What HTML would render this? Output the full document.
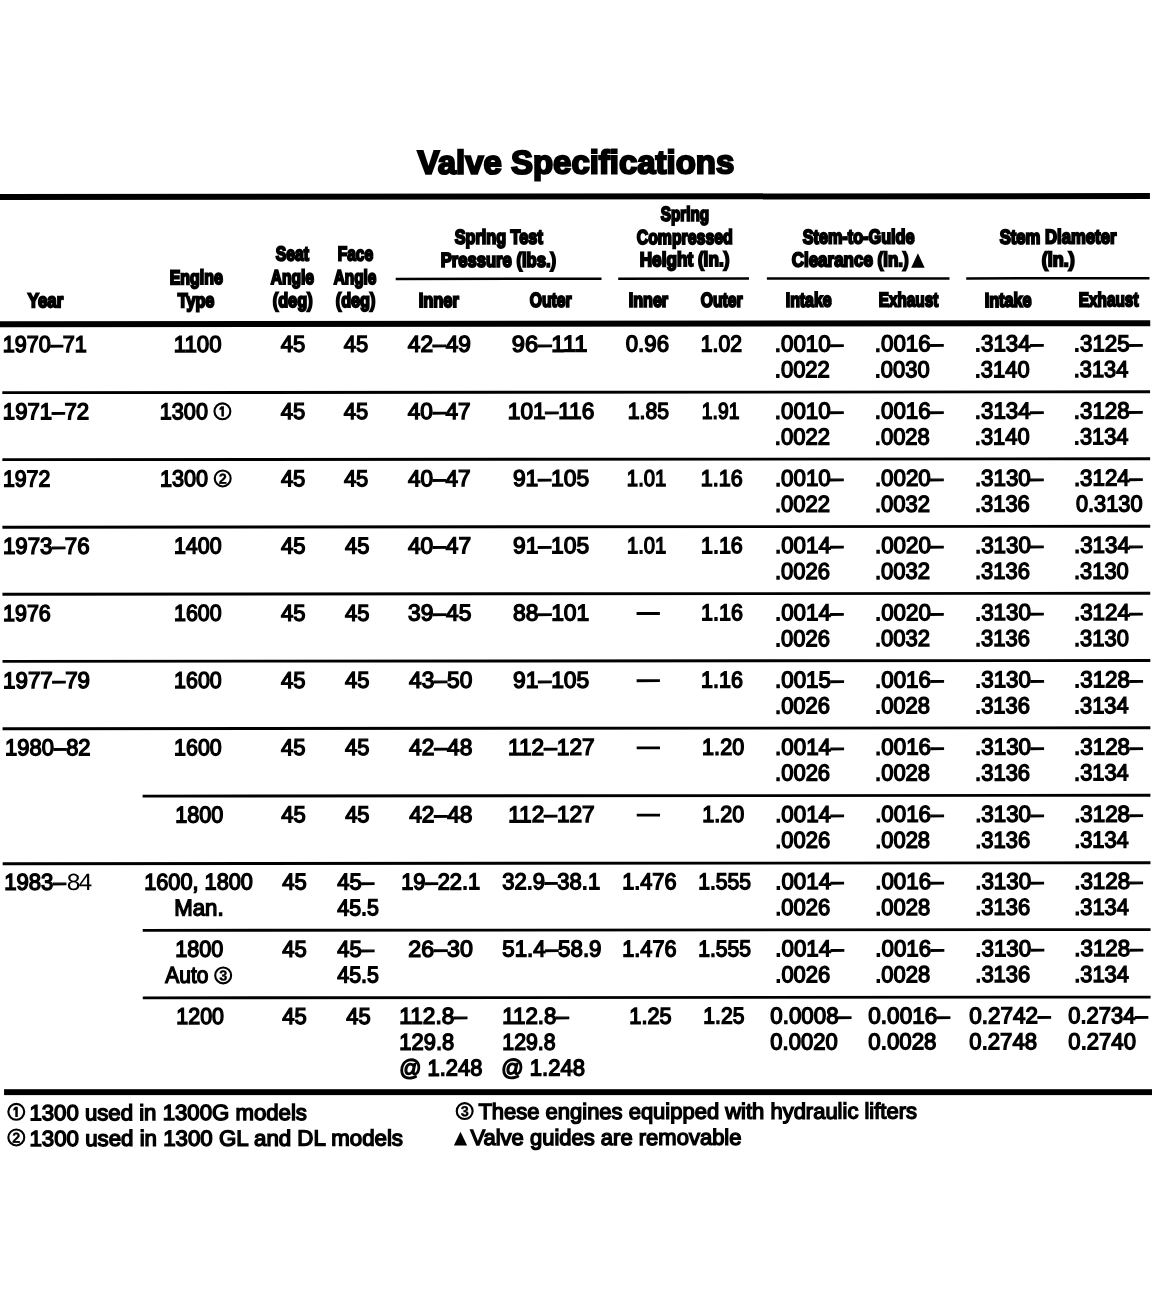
<!DOCTYPE html>
<html><head><meta charset="utf-8"><title>Valve Specifications</title>
<style>
html,body{margin:0;padding:0;background:#fff}
#p{filter:blur(0.4px);text-rendering:geometricPrecision;position:relative;width:1152px;height:1295px;overflow:hidden;background:#fff;font-family:"Liberation Sans",sans-serif;color:#000}
#r{position:absolute;left:0;top:0;width:1152px;height:1295px;transform:rotate(-0.047deg);transform-origin:0 650px}
#r div{position:absolute;white-space:nowrap;transform-origin:0 0}
.b{font-size:23px;line-height:23px;-webkit-text-stroke:1.4px #000}
.f{font-size:22px;line-height:22px;-webkit-text-stroke:1.4px #000}
.h{font-size:20px;line-height:20px;font-weight:bold;-webkit-text-stroke:2px #000}
.t{font-size:33px;line-height:33px;font-weight:bold;-webkit-text-stroke:2.1px #000}
.m{font-family:"Liberation Mono",monospace;font-size:24.5px;line-height:24px;letter-spacing:-2.9px;transform:rotate(-.03deg)}
svg{position:absolute;left:0;top:0}
svg text{font-family:"Liberation Sans",sans-serif}
</style></head>
<body><div id="p"><div id="r">
<svg width="1152" height="1295" viewBox="0 0 1152 1295" fill="#000">
<rect x="0" y="194.00" width="1150.30" height="6.0"/>
<rect x="0" y="321.20" width="1150.50" height="6.0"/>
<rect x="3.7" y="1089.2" width="1150" height="5.9" transform="rotate(0.047 0 1092.2)"/>
<rect x="396" y="277.95" width="205.80" height="2.5"/>
<rect x="618.5" y="277.95" width="130.80" height="2.5"/>
<rect x="767.2" y="277.95" width="182.60" height="2.5"/>
<rect x="966.5" y="277.95" width="183.30" height="2.5"/>
<rect x="2.5" y="391.27" width="1147.80" height="2.85"/>
<rect x="2.5" y="458.27" width="1147.80" height="2.85"/>
<rect x="2.5" y="525.78" width="1147.80" height="2.85"/>
<rect x="2.5" y="592.78" width="1147.80" height="2.85"/>
<rect x="2.5" y="659.98" width="1147.80" height="2.85"/>
<rect x="2.5" y="727.28" width="1147.80" height="2.85"/>
<rect x="142.5" y="794.78" width="1007.80" height="2.85"/>
<rect x="2.5" y="862.28" width="1147.80" height="2.85"/>
<rect x="142.5" y="929.08" width="1007.80" height="2.85"/>
<rect x="142.5" y="996.58" width="1007.80" height="2.85"/>
<rect x="636.6" y="612.64" width="23.30" height="2.8"/>
<rect x="636.6" y="679.85" width="23.30" height="2.8"/>
<rect x="636.6" y="747.06" width="23.30" height="2.8"/>
<rect x="636.6" y="814.27" width="23.30" height="2.8"/>
<circle cx="222.6" cy="411.46" r="7.95" fill="none" stroke="#000" stroke-width="2.1"/>
<path transform="translate(222.6 411.46)" d="M-1 -5.1H1.5V5.1H-1V-2.1L-2.9 -1.1V-3.2Z"/>
<circle cx="222.85" cy="478.66999999999996" r="7.95" fill="none" stroke="#000" stroke-width="2.1"/>
<text x="222.85" y="483.82" font-size="14.5" text-anchor="middle" font-weight="bold" stroke="#000" stroke-width="0.3" transform="rotate(-.03 222.85 478.66999999999996)">2</text>
<circle cx="222.9" cy="975.59" r="7.95" fill="none" stroke="#000" stroke-width="2.1"/>
<text x="222.9" y="980.74" font-size="14.5" text-anchor="middle" font-weight="bold" stroke="#000" stroke-width="0.3" transform="rotate(-.03 222.9 975.59)">3</text>
<circle cx="15.9" cy="1111.8" r="7.95" fill="none" stroke="#000" stroke-width="2.1"/>
<path transform="translate(15.9 1111.8)" d="M-1 -5.1H1.5V5.1H-1V-2.1L-2.9 -1.1V-3.2Z"/>
<circle cx="15.9" cy="1137.5" r="7.95" fill="none" stroke="#000" stroke-width="2.1"/>
<text x="15.9" y="1142.65" font-size="14.5" text-anchor="middle" font-weight="bold" stroke="#000" stroke-width="0.3" transform="rotate(-.03 15.9 1137.5)">2</text>
<circle cx="464.3" cy="1111.5" r="7.95" fill="none" stroke="#000" stroke-width="2.1"/>
<text x="464.3" y="1116.65" font-size="14.5" text-anchor="middle" font-weight="bold" stroke="#000" stroke-width="0.3" transform="rotate(-.03 464.3 1111.5)">3</text>
<path d="M911.5 268.6L918.25 253.9L925 268.6Z"/>
<path d="M453.5 1145.8L460.1 1132.1L466.7 1145.8Z"/>
</svg>
<div class="t" style="left:418.00px;top:146px;transform:translateY(0.10px) scaleX(0.9979) rotate(-.03deg)">Valve Specifications</div>
<div class="h" style="left:27.63px;top:291px;transform:translateY(0.30px) scaleX(0.8408) rotate(-.03deg)">Year</div>
<div class="h" style="left:169.90px;top:268px;transform:translateY(0.30px) scaleX(0.7977) rotate(-.03deg)">Engine</div>
<div class="h" style="left:177.75px;top:291px;transform:translateY(0.30px) scaleX(0.8113) rotate(-.03deg)">Type</div>
<div class="h" style="left:275.71px;top:244px;transform:translateY(0.80px) scaleX(0.7867) rotate(-.03deg)">Seat</div>
<div class="h" style="left:270.56px;top:268px;transform:translateY(0.30px) scaleX(0.7798) rotate(-.03deg)">Angle</div>
<div class="h" style="left:272.54px;top:291px;transform:translateY(0.30px) scaleX(0.8149) rotate(-.03deg)">(deg)</div>
<div class="h" style="left:337.53px;top:244px;transform:translateY(0.80px) scaleX(0.7782) rotate(-.03deg)">Face</div>
<div class="h" style="left:334.07px;top:268px;transform:translateY(0.30px) scaleX(0.7687) rotate(-.03deg)">Angle</div>
<div class="h" style="left:335.74px;top:291px;transform:translateY(0.30px) scaleX(0.8128) rotate(-.03deg)">(deg)</div>
<div class="h" style="left:454.99px;top:228px;transform:translateY(0.20px) scaleX(0.8121) rotate(-.03deg)">Spring Test</div>
<div class="h" style="left:441.36px;top:251px;transform:translateY(0.20px) scaleX(0.8304) rotate(-.03deg)">Pressure (lbs.)</div>
<div class="h" style="left:419.37px;top:291px;transform:translateY(0.30px) scaleX(0.8201) rotate(-.03deg)">Inner</div>
<div class="h" style="left:530.21px;top:291px;transform:translateY(0.30px) scaleX(0.7828) rotate(-.03deg)">Outer</div>
<div class="h" style="left:661.22px;top:205px;transform:translateY(0.30px) scaleX(0.7666) rotate(-.03deg)">Spring</div>
<div class="h" style="left:637.21px;top:228px;transform:translateY(0.50px) scaleX(0.7933) rotate(-.03deg)">Compressed</div>
<div class="h" style="left:639.62px;top:250px;transform:translateY(0.70px) scaleX(0.8588) rotate(-.03deg)">Height (in.)</div>
<div class="h" style="left:628.59px;top:291px;transform:translateY(0.30px) scaleX(0.8053) rotate(-.03deg)">Inner</div>
<div class="h" style="left:700.81px;top:291px;transform:translateY(0.30px) scaleX(0.7866) rotate(-.03deg)">Outer</div>
<div class="h" style="left:803.19px;top:228px;transform:translateY(0.30px) scaleX(0.8117) rotate(-.03deg)">Stem-to-Guide</div>
<div class="h" style="left:791.76px;top:251px;transform:translateY(0.10px) scaleX(0.8489) rotate(-.03deg)">Clearance (in.)</div>
<div class="h" style="left:785.91px;top:291px;transform:translateY(0.30px) scaleX(0.7937) rotate(-.03deg)">Intake</div>
<div class="h" style="left:879.34px;top:291px;transform:translateY(0.30px) scaleX(0.7659) rotate(-.03deg)">Exhaust</div>
<div class="h" style="left:1000.48px;top:228px;transform:translateY(0.50px) scaleX(0.8334) rotate(-.03deg)">Stem Diameter</div>
<div class="h" style="left:1042.05px;top:251px;transform:translateY(0.20px) scaleX(0.9023) rotate(-.03deg)">(in.)</div>
<div class="h" style="left:985.49px;top:291px;transform:translateY(0.70px) scaleX(0.8099) rotate(-.03deg)">Intake</div>
<div class="h" style="left:1078.94px;top:291px;transform:translateY(0.30px) scaleX(0.7685) rotate(-.03deg)">Exhaust</div>
<div class="b" style="left:2.96px;top:333px;transform:translateY(0.10px) scaleX(0.9379) rotate(-.03deg)">1970–71</div>
<div class="b" style="left:2.91px;top:400px;transform:translateY(0.31px) scaleX(0.9639) rotate(-.03deg)">1971–72</div>
<div class="b" style="left:2.98px;top:467px;transform:translateY(0.52px) scaleX(0.9264) rotate(-.03deg)">1972</div>
<div class="b" style="left:2.91px;top:534px;transform:translateY(0.73px) scaleX(0.9683) rotate(-.03deg)">1973–76</div>
<div class="b" style="left:2.96px;top:601px;transform:translateY(0.94px) scaleX(0.9344) rotate(-.03deg)">1976</div>
<div class="b" style="left:2.90px;top:669px;transform:translateY(0.15px) scaleX(0.9713) rotate(-.03deg)">1977–79</div>
<div class="b" style="left:4.93px;top:736px;transform:translateY(0.36px) scaleX(0.9547) rotate(-.03deg)">1980–82</div>
<div class="b" style="left:4.02px;top:870px;transform:translateY(0.78px) scaleX(0.9616) rotate(-.03deg)">1983–</div>
<div class="b" style="left:173.71px;top:333px;transform:translateY(0.10px) scaleX(0.9656) rotate(-.03deg)">1100</div>
<div class="b" style="left:160.35px;top:400px;transform:translateY(0.31px) scaleX(0.9402) rotate(-.03deg)">1300</div>
<div class="b" style="left:160.45px;top:467px;transform:translateY(0.52px) scaleX(0.9402) rotate(-.03deg)">1300</div>
<div class="b" style="left:173.77px;top:534px;transform:translateY(0.73px) scaleX(0.9320) rotate(-.03deg)">1400</div>
<div class="b" style="left:173.97px;top:601px;transform:translateY(0.94px) scaleX(0.9320) rotate(-.03deg)">1600</div>
<div class="b" style="left:173.97px;top:669px;transform:translateY(0.15px) scaleX(0.9320) rotate(-.03deg)">1600</div>
<div class="b" style="left:174.47px;top:736px;transform:translateY(0.36px) scaleX(0.9320) rotate(-.03deg)">1600</div>
<div class="b" style="left:175.15px;top:803px;transform:translateY(0.57px) scaleX(0.9402) rotate(-.03deg)">1800</div>
<div class="b" style="left:144.45px;top:870px;transform:translateY(0.78px) scaleX(0.9445) rotate(-.03deg)">1600, 1800</div>
<div class="b" style="left:173.89px;top:896px;transform:translateY(0.68px) scaleX(0.9664) rotate(-.03deg)">Man.</div>
<div class="b" style="left:175.15px;top:937px;transform:translateY(0.99px) scaleX(0.9402) rotate(-.03deg)">1800</div>
<div class="b" style="left:165.14px;top:963px;transform:translateY(0.89px) scaleX(0.9103) rotate(-.03deg)">Auto</div>
<div class="b" style="left:176.42px;top:1005px;transform:translateY(0.20px) scaleX(0.9309) rotate(-.03deg)">1200</div>
<div class="b" style="left:280.72px;top:333px;transform:translateY(0.10px) scaleX(0.9575) rotate(-.03deg)">45</div>
<div class="b" style="left:280.72px;top:400px;transform:translateY(0.31px) scaleX(0.9575) rotate(-.03deg)">45</div>
<div class="b" style="left:280.72px;top:467px;transform:translateY(0.52px) scaleX(0.9575) rotate(-.03deg)">45</div>
<div class="b" style="left:281.42px;top:534px;transform:translateY(0.73px) scaleX(0.9575) rotate(-.03deg)">45</div>
<div class="b" style="left:281.42px;top:601px;transform:translateY(0.94px) scaleX(0.9575) rotate(-.03deg)">45</div>
<div class="b" style="left:281.42px;top:669px;transform:translateY(0.15px) scaleX(0.9575) rotate(-.03deg)">45</div>
<div class="b" style="left:281.42px;top:736px;transform:translateY(0.36px) scaleX(0.9575) rotate(-.03deg)">45</div>
<div class="b" style="left:281.42px;top:803px;transform:translateY(0.57px) scaleX(0.9575) rotate(-.03deg)">45</div>
<div class="b" style="left:282.12px;top:870px;transform:translateY(0.78px) scaleX(0.9575) rotate(-.03deg)">45</div>
<div class="b" style="left:282.12px;top:937px;transform:translateY(0.99px) scaleX(0.9575) rotate(-.03deg)">45</div>
<div class="b" style="left:282.12px;top:1005px;transform:translateY(0.20px) scaleX(0.9575) rotate(-.03deg)">45</div>
<div class="b" style="left:344.32px;top:333px;transform:translateY(0.10px) scaleX(0.9534) rotate(-.03deg)">45</div>
<div class="b" style="left:344.32px;top:400px;transform:translateY(0.31px) scaleX(0.9534) rotate(-.03deg)">45</div>
<div class="b" style="left:344.32px;top:467px;transform:translateY(0.52px) scaleX(0.9534) rotate(-.03deg)">45</div>
<div class="b" style="left:345.02px;top:534px;transform:translateY(0.73px) scaleX(0.9534) rotate(-.03deg)">45</div>
<div class="b" style="left:345.02px;top:601px;transform:translateY(0.94px) scaleX(0.9534) rotate(-.03deg)">45</div>
<div class="b" style="left:345.02px;top:669px;transform:translateY(0.15px) scaleX(0.9534) rotate(-.03deg)">45</div>
<div class="b" style="left:345.02px;top:736px;transform:translateY(0.36px) scaleX(0.9534) rotate(-.03deg)">45</div>
<div class="b" style="left:345.02px;top:803px;transform:translateY(0.57px) scaleX(0.9534) rotate(-.03deg)">45</div>
<div class="b" style="left:337.02px;top:870px;transform:translateY(0.78px) scaleX(0.9547) rotate(-.03deg)">45–</div>
<div class="b" style="left:337.03px;top:896px;transform:translateY(0.68px) scaleX(0.9304) rotate(-.03deg)">45.5</div>
<div class="b" style="left:337.02px;top:937px;transform:translateY(0.99px) scaleX(0.9547) rotate(-.03deg)">45–</div>
<div class="b" style="left:337.03px;top:963px;transform:translateY(0.89px) scaleX(0.9304) rotate(-.03deg)">45.5</div>
<div class="b" style="left:346.32px;top:1005px;transform:translateY(0.20px) scaleX(0.9534) rotate(-.03deg)">45</div>
<div class="b" style="left:407.71px;top:333px;transform:translateY(0.10px) scaleX(0.9876) rotate(-.03deg)">42–49</div>
<div class="b" style="left:407.71px;top:400px;transform:translateY(0.31px) scaleX(0.9805) rotate(-.03deg)">40–47</div>
<div class="b" style="left:407.71px;top:467px;transform:translateY(0.52px) scaleX(0.9805) rotate(-.03deg)">40–47</div>
<div class="b" style="left:407.71px;top:534px;transform:translateY(0.73px) scaleX(0.9886) rotate(-.03deg)">40–47</div>
<div class="b" style="left:407.83px;top:601px;transform:translateY(0.94px) scaleX(0.9915) rotate(-.03deg)">39–45</div>
<div class="b" style="left:408.71px;top:669px;transform:translateY(0.15px) scaleX(0.9894) rotate(-.03deg)">43–50</div>
<div class="b" style="left:408.70px;top:736px;transform:translateY(0.36px) scaleX(0.9904) rotate(-.03deg)">42–48</div>
<div class="b" style="left:408.70px;top:803px;transform:translateY(0.57px) scaleX(0.9904) rotate(-.03deg)">42–48</div>
<div class="b" style="left:400.64px;top:870px;transform:translateY(0.78px) scaleX(0.9500) rotate(-.03deg)">19–22.1</div>
<div class="b" style="left:408.00px;top:937px;transform:translateY(0.99px) scaleX(1.0117) rotate(-.03deg)">26–30</div>
<div class="b" style="left:511.90px;top:333px;transform:translateY(0.10px) scaleX(1.0311) rotate(-.03deg)">96–111</div>
<div class="b" style="left:507.88px;top:400px;transform:translateY(0.31px) scaleX(0.9840) rotate(-.03deg)">101–116</div>
<div class="b" style="left:512.64px;top:467px;transform:translateY(0.52px) scaleX(0.9935) rotate(-.03deg)">91–105</div>
<div class="b" style="left:512.64px;top:534px;transform:translateY(0.73px) scaleX(0.9935) rotate(-.03deg)">91–105</div>
<div class="b" style="left:512.71px;top:601px;transform:translateY(0.94px) scaleX(0.9943) rotate(-.03deg)">88–101</div>
<div class="b" style="left:512.64px;top:669px;transform:translateY(0.15px) scaleX(0.9935) rotate(-.03deg)">91–105</div>
<div class="b" style="left:507.88px;top:736px;transform:translateY(0.36px) scaleX(0.9854) rotate(-.03deg)">112–127</div>
<div class="b" style="left:507.88px;top:803px;transform:translateY(0.57px) scaleX(0.9854) rotate(-.03deg)">112–127</div>
<div class="b" style="left:502.16px;top:870px;transform:translateY(0.78px) scaleX(0.9574) rotate(-.03deg)">32.9–38.1</div>
<div class="b" style="left:502.09px;top:937px;transform:translateY(0.99px) scaleX(0.9700) rotate(-.03deg)">51.4–58.9</div>
<div class="b" style="left:399.38px;top:1005px;transform:translateY(0.20px) scaleX(0.9839) rotate(-.03deg)">112.8–</div>
<div class="b" style="left:399.43px;top:1031px;transform:translateY(0.10px) scaleX(0.9523) rotate(-.03deg)">129.8</div>
<div class="b" style="left:399.28px;top:1056px;transform:translateY(1.00px) scaleX(0.9503) rotate(-.03deg)">@ 1.248</div>
<div class="b" style="left:502.41px;top:1005px;transform:translateY(0.20px) scaleX(0.9675) rotate(-.03deg)">112.8–</div>
<div class="b" style="left:502.48px;top:1031px;transform:translateY(0.10px) scaleX(0.9250) rotate(-.03deg)">129.8</div>
<div class="b" style="left:501.46px;top:1056px;transform:translateY(1.00px) scaleX(0.9574) rotate(-.03deg)">@ 1.248</div>
<div class="b" style="left:626.36px;top:333px;transform:translateY(0.10px) scaleX(0.9656) rotate(-.03deg)">0.96</div>
<div class="b" style="left:627.99px;top:400px;transform:translateY(0.31px) scaleX(0.9224) rotate(-.03deg)">1.85</div>
<div class="b" style="left:627.16px;top:467px;transform:translateY(0.52px) scaleX(0.8799) rotate(-.03deg)">1.01</div>
<div class="b" style="left:627.16px;top:534px;transform:translateY(0.73px) scaleX(0.8799) rotate(-.03deg)">1.01</div>
<div class="b" style="left:622.05px;top:870px;transform:translateY(0.78px) scaleX(0.9425) rotate(-.03deg)">1.476</div>
<div class="b" style="left:622.05px;top:937px;transform:translateY(0.99px) scaleX(0.9425) rotate(-.03deg)">1.476</div>
<div class="b" style="left:628.55px;top:1005px;transform:translateY(0.20px) scaleX(0.9438) rotate(-.03deg)">1.25</div>
<div class="b" style="left:701.49px;top:333px;transform:translateY(0.10px) scaleX(0.9218) rotate(-.03deg)">1.02</div>
<div class="b" style="left:701.93px;top:400px;transform:translateY(0.31px) scaleX(0.8393) rotate(-.03deg)">1.91</div>
<div class="b" style="left:701.46px;top:467px;transform:translateY(0.52px) scaleX(0.9357) rotate(-.03deg)">1.16</div>
<div class="b" style="left:701.46px;top:534px;transform:translateY(0.73px) scaleX(0.9357) rotate(-.03deg)">1.16</div>
<div class="b" style="left:701.46px;top:601px;transform:translateY(0.94px) scaleX(0.9357) rotate(-.03deg)">1.16</div>
<div class="b" style="left:701.46px;top:669px;transform:translateY(0.15px) scaleX(0.9357) rotate(-.03deg)">1.16</div>
<div class="b" style="left:701.65px;top:736px;transform:translateY(0.36px) scaleX(0.9401) rotate(-.03deg)">1.20</div>
<div class="b" style="left:701.65px;top:803px;transform:translateY(0.57px) scaleX(0.9401) rotate(-.03deg)">1.20</div>
<div class="b" style="left:697.79px;top:870px;transform:translateY(0.78px) scaleX(0.9177) rotate(-.03deg)">1.555</div>
<div class="b" style="left:697.79px;top:937px;transform:translateY(0.99px) scaleX(0.9177) rotate(-.03deg)">1.555</div>
<div class="b" style="left:703.49px;top:1005px;transform:translateY(0.20px) scaleX(0.9177) rotate(-.03deg)">1.25</div>
<div class="b" style="left:774.54px;top:333px;transform:translateY(0.10px) scaleX(0.9709) rotate(-.03deg)">.0010–</div>
<div class="b" style="left:774.57px;top:359px;transform:translateY(0.00px) scaleX(0.9567) rotate(-.03deg)">.0022</div>
<div class="b" style="left:774.54px;top:400px;transform:translateY(0.31px) scaleX(0.9709) rotate(-.03deg)">.0010–</div>
<div class="b" style="left:774.57px;top:426px;transform:translateY(0.21px) scaleX(0.9567) rotate(-.03deg)">.0022</div>
<div class="b" style="left:774.54px;top:467px;transform:translateY(0.52px) scaleX(0.9709) rotate(-.03deg)">.0010–</div>
<div class="b" style="left:774.57px;top:493px;transform:translateY(0.42px) scaleX(0.9567) rotate(-.03deg)">.0022</div>
<div class="b" style="left:774.54px;top:534px;transform:translateY(0.73px) scaleX(0.9709) rotate(-.03deg)">.0014–</div>
<div class="b" style="left:774.57px;top:560px;transform:translateY(0.63px) scaleX(0.9545) rotate(-.03deg)">.0026</div>
<div class="b" style="left:774.54px;top:601px;transform:translateY(0.94px) scaleX(0.9709) rotate(-.03deg)">.0014–</div>
<div class="b" style="left:774.57px;top:627px;transform:translateY(0.84px) scaleX(0.9545) rotate(-.03deg)">.0026</div>
<div class="b" style="left:774.54px;top:669px;transform:translateY(0.15px) scaleX(0.9709) rotate(-.03deg)">.0015–</div>
<div class="b" style="left:774.57px;top:695px;transform:translateY(0.05px) scaleX(0.9545) rotate(-.03deg)">.0026</div>
<div class="b" style="left:774.54px;top:736px;transform:translateY(0.36px) scaleX(0.9709) rotate(-.03deg)">.0014–</div>
<div class="b" style="left:774.57px;top:762px;transform:translateY(0.26px) scaleX(0.9545) rotate(-.03deg)">.0026</div>
<div class="b" style="left:774.54px;top:803px;transform:translateY(0.57px) scaleX(0.9709) rotate(-.03deg)">.0014–</div>
<div class="b" style="left:774.57px;top:829px;transform:translateY(0.47px) scaleX(0.9545) rotate(-.03deg)">.0026</div>
<div class="b" style="left:774.54px;top:870px;transform:translateY(0.78px) scaleX(0.9709) rotate(-.03deg)">.0014–</div>
<div class="b" style="left:774.57px;top:896px;transform:translateY(0.68px) scaleX(0.9545) rotate(-.03deg)">.0026</div>
<div class="b" style="left:774.54px;top:937px;transform:translateY(0.99px) scaleX(0.9709) rotate(-.03deg)">.0014–</div>
<div class="b" style="left:774.57px;top:963px;transform:translateY(0.89px) scaleX(0.9545) rotate(-.03deg)">.0026</div>
<div class="b" style="left:769.55px;top:1005px;transform:translateY(0.20px) scaleX(0.9702) rotate(-.03deg)">0.0008–</div>
<div class="b" style="left:769.56px;top:1031px;transform:translateY(0.10px) scaleX(0.9568) rotate(-.03deg)">0.0020</div>
<div class="b" style="left:874.84px;top:333px;transform:translateY(0.10px) scaleX(0.9709) rotate(-.03deg)">.0016–</div>
<div class="b" style="left:874.88px;top:359px;transform:translateY(0.00px) scaleX(0.9523) rotate(-.03deg)">.0030</div>
<div class="b" style="left:874.84px;top:400px;transform:translateY(0.31px) scaleX(0.9709) rotate(-.03deg)">.0016–</div>
<div class="b" style="left:874.87px;top:426px;transform:translateY(0.21px) scaleX(0.9534) rotate(-.03deg)">.0028</div>
<div class="b" style="left:874.84px;top:467px;transform:translateY(0.52px) scaleX(0.9709) rotate(-.03deg)">.0020–</div>
<div class="b" style="left:874.87px;top:493px;transform:translateY(0.42px) scaleX(0.9567) rotate(-.03deg)">.0032</div>
<div class="b" style="left:874.84px;top:534px;transform:translateY(0.73px) scaleX(0.9709) rotate(-.03deg)">.0020–</div>
<div class="b" style="left:874.87px;top:560px;transform:translateY(0.63px) scaleX(0.9567) rotate(-.03deg)">.0032</div>
<div class="b" style="left:874.84px;top:601px;transform:translateY(0.94px) scaleX(0.9709) rotate(-.03deg)">.0020–</div>
<div class="b" style="left:874.87px;top:627px;transform:translateY(0.84px) scaleX(0.9567) rotate(-.03deg)">.0032</div>
<div class="b" style="left:874.84px;top:669px;transform:translateY(0.15px) scaleX(0.9709) rotate(-.03deg)">.0016–</div>
<div class="b" style="left:874.87px;top:695px;transform:translateY(0.05px) scaleX(0.9534) rotate(-.03deg)">.0028</div>
<div class="b" style="left:874.84px;top:736px;transform:translateY(0.36px) scaleX(0.9709) rotate(-.03deg)">.0016–</div>
<div class="b" style="left:874.87px;top:762px;transform:translateY(0.26px) scaleX(0.9534) rotate(-.03deg)">.0028</div>
<div class="b" style="left:874.84px;top:803px;transform:translateY(0.57px) scaleX(0.9709) rotate(-.03deg)">.0016–</div>
<div class="b" style="left:874.87px;top:829px;transform:translateY(0.47px) scaleX(0.9534) rotate(-.03deg)">.0028</div>
<div class="b" style="left:874.84px;top:870px;transform:translateY(0.78px) scaleX(0.9709) rotate(-.03deg)">.0016–</div>
<div class="b" style="left:874.87px;top:896px;transform:translateY(0.68px) scaleX(0.9534) rotate(-.03deg)">.0028</div>
<div class="b" style="left:874.84px;top:937px;transform:translateY(0.99px) scaleX(0.9709) rotate(-.03deg)">.0016–</div>
<div class="b" style="left:874.87px;top:963px;transform:translateY(0.89px) scaleX(0.9534) rotate(-.03deg)">.0028</div>
<div class="b" style="left:868.14px;top:1005px;transform:translateY(0.20px) scaleX(0.9799) rotate(-.03deg)">0.0016–</div>
<div class="b" style="left:868.15px;top:1031px;transform:translateY(0.10px) scaleX(0.9679) rotate(-.03deg)">0.0028</div>
<div class="b" style="left:974.64px;top:333px;transform:translateY(0.10px) scaleX(0.9709) rotate(-.03deg)">.3134–</div>
<div class="b" style="left:974.68px;top:359px;transform:translateY(0.00px) scaleX(0.9523) rotate(-.03deg)">.3140</div>
<div class="b" style="left:974.64px;top:400px;transform:translateY(0.31px) scaleX(0.9709) rotate(-.03deg)">.3134–</div>
<div class="b" style="left:974.68px;top:426px;transform:translateY(0.21px) scaleX(0.9523) rotate(-.03deg)">.3140</div>
<div class="b" style="left:974.64px;top:467px;transform:translateY(0.52px) scaleX(0.9709) rotate(-.03deg)">.3130–</div>
<div class="b" style="left:974.67px;top:493px;transform:translateY(0.42px) scaleX(0.9545) rotate(-.03deg)">.3136</div>
<div class="b" style="left:974.64px;top:534px;transform:translateY(0.73px) scaleX(0.9709) rotate(-.03deg)">.3130–</div>
<div class="b" style="left:974.67px;top:560px;transform:translateY(0.63px) scaleX(0.9545) rotate(-.03deg)">.3136</div>
<div class="b" style="left:974.64px;top:601px;transform:translateY(0.94px) scaleX(0.9709) rotate(-.03deg)">.3130–</div>
<div class="b" style="left:974.67px;top:627px;transform:translateY(0.84px) scaleX(0.9545) rotate(-.03deg)">.3136</div>
<div class="b" style="left:974.64px;top:669px;transform:translateY(0.15px) scaleX(0.9709) rotate(-.03deg)">.3130–</div>
<div class="b" style="left:974.67px;top:695px;transform:translateY(0.05px) scaleX(0.9545) rotate(-.03deg)">.3136</div>
<div class="b" style="left:974.64px;top:736px;transform:translateY(0.36px) scaleX(0.9709) rotate(-.03deg)">.3130–</div>
<div class="b" style="left:974.67px;top:762px;transform:translateY(0.26px) scaleX(0.9545) rotate(-.03deg)">.3136</div>
<div class="b" style="left:974.64px;top:803px;transform:translateY(0.57px) scaleX(0.9709) rotate(-.03deg)">.3130–</div>
<div class="b" style="left:974.67px;top:829px;transform:translateY(0.47px) scaleX(0.9545) rotate(-.03deg)">.3136</div>
<div class="b" style="left:974.64px;top:870px;transform:translateY(0.78px) scaleX(0.9709) rotate(-.03deg)">.3130–</div>
<div class="b" style="left:974.67px;top:896px;transform:translateY(0.68px) scaleX(0.9545) rotate(-.03deg)">.3136</div>
<div class="b" style="left:974.64px;top:937px;transform:translateY(0.99px) scaleX(0.9709) rotate(-.03deg)">.3130–</div>
<div class="b" style="left:974.67px;top:963px;transform:translateY(0.89px) scaleX(0.9545) rotate(-.03deg)">.3136</div>
<div class="b" style="left:968.65px;top:1005px;transform:translateY(0.20px) scaleX(0.9751) rotate(-.03deg)">0.2742–</div>
<div class="b" style="left:968.66px;top:1031px;transform:translateY(0.10px) scaleX(0.9620) rotate(-.03deg)">0.2748</div>
<div class="b" style="left:1074.44px;top:333px;transform:translateY(0.10px) scaleX(0.9709) rotate(-.03deg)">.3125–</div>
<div class="b" style="left:1074.49px;top:359px;transform:translateY(0.00px) scaleX(0.9479) rotate(-.03deg)">.3134</div>
<div class="b" style="left:1074.44px;top:400px;transform:translateY(0.31px) scaleX(0.9709) rotate(-.03deg)">.3128–</div>
<div class="b" style="left:1074.49px;top:426px;transform:translateY(0.21px) scaleX(0.9479) rotate(-.03deg)">.3134</div>
<div class="b" style="left:1074.44px;top:467px;transform:translateY(0.52px) scaleX(0.9709) rotate(-.03deg)">.3124–</div>
<div class="b" style="left:1076.17px;top:493px;transform:translateY(0.42px) scaleX(0.9466) rotate(-.03deg)">0.3130</div>
<div class="b" style="left:1074.44px;top:534px;transform:translateY(0.73px) scaleX(0.9709) rotate(-.03deg)">.3134–</div>
<div class="b" style="left:1074.48px;top:560px;transform:translateY(0.63px) scaleX(0.9523) rotate(-.03deg)">.3130</div>
<div class="b" style="left:1074.44px;top:601px;transform:translateY(0.94px) scaleX(0.9709) rotate(-.03deg)">.3124–</div>
<div class="b" style="left:1074.48px;top:627px;transform:translateY(0.84px) scaleX(0.9523) rotate(-.03deg)">.3130</div>
<div class="b" style="left:1074.44px;top:669px;transform:translateY(0.15px) scaleX(0.9709) rotate(-.03deg)">.3128–</div>
<div class="b" style="left:1074.49px;top:695px;transform:translateY(0.05px) scaleX(0.9479) rotate(-.03deg)">.3134</div>
<div class="b" style="left:1074.44px;top:736px;transform:translateY(0.36px) scaleX(0.9709) rotate(-.03deg)">.3128–</div>
<div class="b" style="left:1074.49px;top:762px;transform:translateY(0.26px) scaleX(0.9479) rotate(-.03deg)">.3134</div>
<div class="b" style="left:1074.44px;top:803px;transform:translateY(0.57px) scaleX(0.9709) rotate(-.03deg)">.3128–</div>
<div class="b" style="left:1074.49px;top:829px;transform:translateY(0.47px) scaleX(0.9479) rotate(-.03deg)">.3134</div>
<div class="b" style="left:1074.44px;top:870px;transform:translateY(0.78px) scaleX(0.9709) rotate(-.03deg)">.3128–</div>
<div class="b" style="left:1074.49px;top:896px;transform:translateY(0.68px) scaleX(0.9479) rotate(-.03deg)">.3134</div>
<div class="b" style="left:1074.44px;top:937px;transform:translateY(0.99px) scaleX(0.9709) rotate(-.03deg)">.3128–</div>
<div class="b" style="left:1074.49px;top:963px;transform:translateY(0.89px) scaleX(0.9479) rotate(-.03deg)">.3134</div>
<div class="b" style="left:1068.46px;top:1005px;transform:translateY(0.20px) scaleX(0.9544) rotate(-.03deg)">0.2734–</div>
<div class="b" style="left:1068.46px;top:1031px;transform:translateY(0.10px) scaleX(0.9612) rotate(-.03deg)">0.2740</div>
<div class="f" style="left:28.60px;top:1102px;transform:translateY(0.30px) scaleX(1.0085) rotate(-.03deg)">1300 used in 1300G models</div>
<div class="f" style="left:28.59px;top:1128px;transform:translateY(0.00px) scaleX(1.0125) rotate(-.03deg)">1300 used in 1300 GL and DL models</div>
<div class="f" style="left:477.80px;top:1101px;transform:translateY(0.50px) scaleX(0.9990) rotate(-.03deg)">These engines equipped with hydraulic lifters</div>
<div class="f" style="left:470.47px;top:1127px;transform:translateY(0.50px) scaleX(1.0000) rotate(-.03deg)">Valve guides are removable</div>
<div class="m" style="left:65.9px;top:873px">84</div>
</div></div></body></html>
